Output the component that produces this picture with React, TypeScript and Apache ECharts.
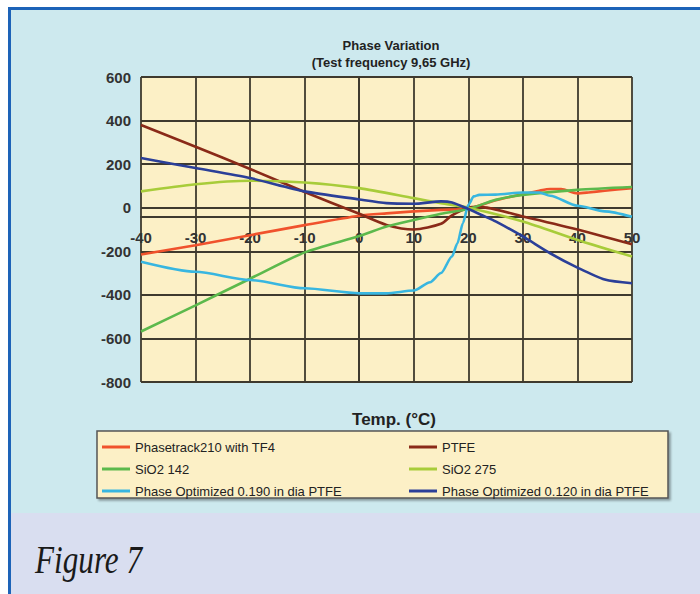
import React, { useEffect, useRef } from "react";
import * as echarts from "echarts";

const seriesNames = [
  "Phasetrack210 with TF4",
  "PTFE",
  "SiO2 142",
  "SiO2 275",
  "Phase Optimized 0.190 in dia PTFE",
  "Phase Optimized 0.120 in dia PTFE",
];
const seriesColors = ["#f0522c", "#8a2a18", "#5cb94c", "#a8cc3a", "#38b6e0", "#2b3f98"];

const phasetrackT = [-40, -30, -20, -10, 0, 5, 10, 15, 20, 25, 30, 33, 35, 37, 40, 42, 45, 50];
const phasetrackV = [-215, -172, -126, -80, -37, -26, -17, -10, -4, 34, 62, 78, 86, 86, 66, 70, 78, 90];

const ptfeT = [-40, -30, -20, -10, 0, 5, 10, 15, 17, 20, 22, 30, 40, 50];
const ptfeV = [380, 280, 178, 72, -28, -79, -100, -74, -35, 0, 4, -40, -100, -168];

const sio2a142T = [-40, -30, -20, -10, 0, 5, 10, 15, 20, 25, 30, 40, 50];
const sio2a142V = [-568, -448, -326, -205, -130, -86, -56, -28, -6, 36, 59, 82, 95];

const sio2a275T = [-40, -30, -20, -10, 0, 10, 15, 20, 30, 40, 50];
const sio2a275V = [75, 108, 124, 116, 90, 44, 21, 0, -63, -148, -224];

const opt190T = [-40, -30, -20, -10, 0, 5, 10, 13, 15, 17, 18, 19, 20, 21, 22, 25, 30, 33, 35, 40, 45, 50];
const opt190V = [-248, -294, -332, -370, -393, -393, -380, -342, -300, -224, -163, -71, 13, 52, 59, 60, 70, 70, 55, 9, -17, -42];

const opt120T = [-40, -30, -20, -10, 0, 5, 10, 15, 17, 20, 23, 25, 30, 35, 40, 45, 50];
const opt120V = [228, 182, 136, 75, 38, 21, 18, 29, 24, -6, -40, -63, -132, -209, -275, -330, -347];

const allT = [phasetrackT, ptfeT, sio2a142T, sio2a275T, opt190T, opt120T];
const allV = [phasetrackV, ptfeV, sio2a142V, sio2a275V, opt190V, opt120V];

const Y_MIN = -800;
const Y_MAX = 600;
const X_CROSS_VALUE = -40; // the temperature axis crosses the phase axis at -40
const GRID_HEIGHT = 305;

const FONT = "'Liberation Sans', Arial, sans-serif";
const GRIDC = "#3f3a2e";

export default function App() {
  const ref = useRef<HTMLDivElement>(null);
  useEffect(() => {
    const chart = echarts.init(ref.current!, null, { renderer: "svg", width: 700, height: 594 });
    const series = seriesNames.map((name, i) => ({
      name,
      type: "line",
      data: allT[i].map((t, j) => [t, allV[i][j]]),
      symbol: "none",
      smooth: 0.25,
      smoothMonotone: i === 4 ? "x" : undefined,
      lineStyle: { width: 2.6, color: seriesColors[i] },
      itemStyle: { color: seriesColors[i] },
      z: 3,
    }));
    const crossOffset = -((X_CROSS_VALUE - Y_MIN) / (Y_MAX - Y_MIN)) * GRID_HEIGHT;
    const legendText = { fontSize: 13, color: "#222", lineHeight: 14, fontFamily: FONT };
    chart.setOption({
      animation: false,
      backgroundColor: "transparent",
      title: [
        {
          text: "Phase Variation\n(Test frequency 9,65 GHz)",
          left: 386,
          top: 32,
          textAlign: "center",
          textStyle: { fontSize: 13, fontWeight: "bold", color: "#222", lineHeight: 17, fontFamily: FONT },
        },
        {
          text: "Temp. (°C)",
          left: 389,
          top: 406,
          textAlign: "center",
          textStyle: { fontSize: 17, fontWeight: "bold", color: "#222", fontFamily: FONT },
        },
      ],
      grid: {
        left: 141,
        top: 77,
        width: 491,
        height: GRID_HEIGHT,
        show: true,
        backgroundColor: "#fcf0c6",
        borderWidth: 0,
      },
      xAxis: {
        type: "value",
        min: -40,
        max: 50,
        interval: 10,
        offset: crossOffset,
        axisLine: { show: true, onZero: false, lineStyle: { color: GRIDC, width: 2 } },
        axisTick: { show: false },
        axisLabel: { color: "#333", fontSize: 15, fontWeight: "bold", margin: 14, fontFamily: FONT },
        splitLine: { show: true, lineStyle: { color: GRIDC, width: 1.8 } },
      },
      yAxis: {
        type: "value",
        min: Y_MIN,
        max: Y_MAX,
        interval: 200,
        axisLine: { show: true, lineStyle: { color: GRIDC, width: 2 } },
        axisTick: { show: true, length: 5, lineStyle: { color: GRIDC, width: 1.5 } },
        axisLabel: { color: "#333", fontSize: 15, fontWeight: "bold", margin: 10, fontFamily: FONT },
        splitLine: { show: true, lineStyle: { color: GRIDC, width: 1.8 } },
      },
      legend: [
        {
          orient: "vertical",
          left: 97,
          top: 435,
          itemWidth: 28,
          itemHeight: 3,
          itemGap: 8,
          icon: "rect",
          data: [seriesNames[0], seriesNames[2], seriesNames[4]],
          textStyle: legendText,
        },
        {
          orient: "vertical",
          left: 404,
          top: 435,
          itemWidth: 28,
          itemHeight: 3,
          itemGap: 8,
          icon: "rect",
          data: [seriesNames[1], seriesNames[3], seriesNames[5]],
          textStyle: legendText,
        },
      ],
      graphic: [
        {
          type: "rect",
          z: -1,
          shape: { x: 97, y: 431, width: 571, height: 67 },
          style: {
            fill: "#fcf0c6",
            stroke: "#555",
            lineWidth: 1.5,
            shadowColor: "rgba(0,0,0,0.35)",
            shadowOffsetX: 2,
            shadowOffsetY: 2,
            shadowBlur: 2,
          },
        },
        {
          type: "text",
          x: 35,
          y: 560,
          scaleX: 0.8,
          style: {
            text: "Figure 7",
            x: 0,
            y: 0,
            fill: "#1a1a1a",
            font: "italic 39px 'Liberation Serif', 'DejaVu Serif', serif",
            verticalAlign: "middle",
          },
        },
      ],
      series,
    });
    return () => chart.dispose();
  }, []);
  return (
    <div style={{ position: "fixed", left: 0, top: 0, width: 700, height: 594, background: "#ffffff", overflow: "hidden" }}>
      <div style={{ position: "absolute", left: 8, top: 7, right: 0, bottom: 0, background: "#1d63b8" }} />
      <div style={{ position: "absolute", left: 11, top: 10, right: 0, height: 503, background: "#cde9ee" }} />
      <div style={{ position: "absolute", left: 11, top: 513, right: 0, bottom: 0, background: "#d9def0" }} />
      <div ref={ref} style={{ position: "absolute", left: 0, top: 0, width: 700, height: 594 }} />
    </div>
  );
}
